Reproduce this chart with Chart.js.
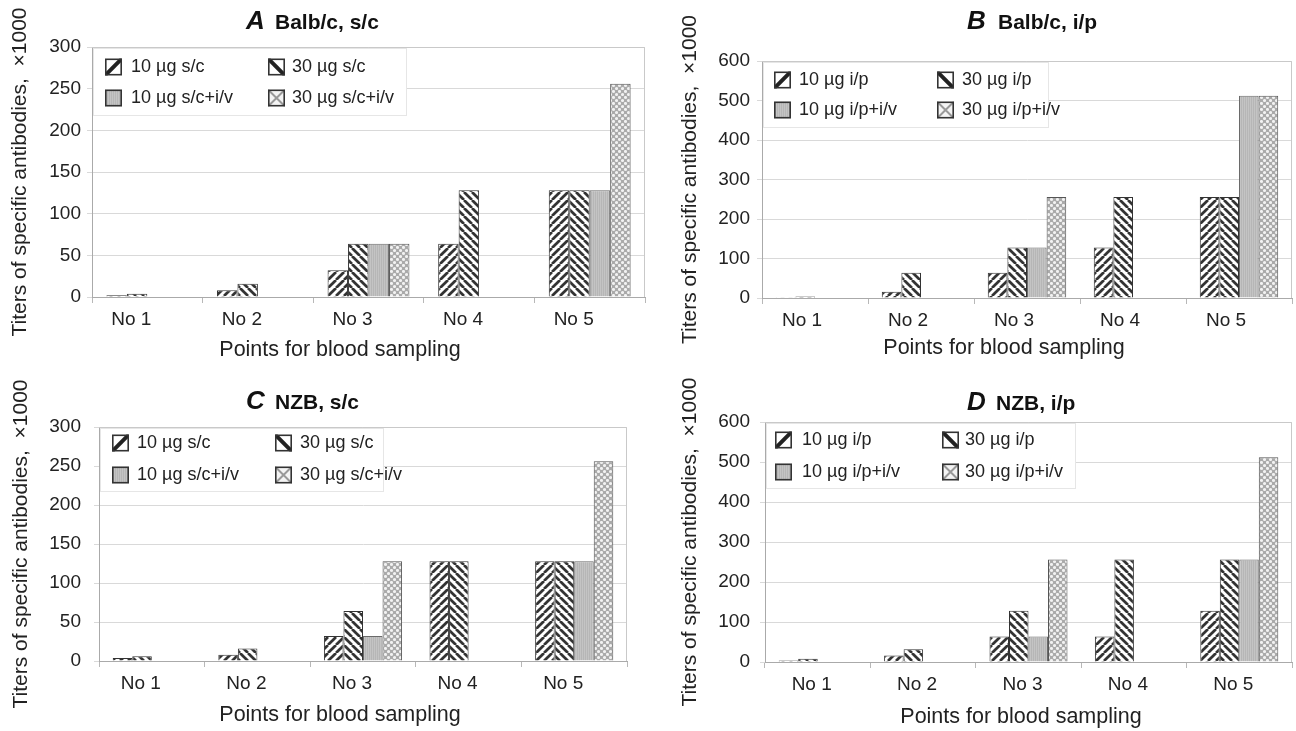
<!DOCTYPE html>
<html><head><meta charset="utf-8">
<script src="https://cdn.jsdelivr.net/npm/chart.js@4.4.1/dist/chart.umd.min.js"></script>
<style>
html,body{margin:0;padding:0;background:#fff;width:1296px;height:731px;overflow:hidden;}
.p{position:absolute;}
</style></head><body>
<div class="p" style="left:0;top:0;width:648px;height:365px"><canvas id="cA"></canvas></div>
<div class="p" style="left:648px;top:0;width:648px;height:365px"><canvas id="cB"></canvas></div>
<div class="p" style="left:0;top:365px;width:648px;height:366px"><canvas id="cC"></canvas></div>
<div class="p" style="left:648px;top:365px;width:648px;height:366px"><canvas id="cD"></canvas></div>
<script>
// ---------- data ----------
const categories = ['No 1', 'No 2', 'No 3', 'No 4', 'No 5'];
const seriesSC = ['10 µg s/c', '30 µg s/c', '10 µg s/c+i/v', '30 µg s/c+i/v'];
const seriesIP = ['10 µg i/p', '30 µg i/p', '10 µg i/p+i/v', '30 µg i/p+i/v'];
const xTitle = 'Points for blood sampling';
const yTitle = 'Titers of specific antibodies,  ×1000';

// A  Balb/c, s/c
const A_10 = [2, 8, 32, 64, 128];
const A_30 = [4, 16, 64, 128, 128];
const A_10iv = [null, null, 64, null, 128];
const A_30iv = [null, null, 64, null, 256];
// B  Balb/c, i/p
const B_10 = [2, 16, 64, 128, 256];
const B_30 = [4, 64, 128, 256, 256];
const B_10iv = [null, null, 128, null, 512];
const B_30iv = [null, null, 256, null, 512];
// C  NZB, s/c
const C_10 = [4, 8, 32, 128, 128];
const C_30 = [6, 16, 64, 128, 128];
const C_10iv = [null, null, 32, null, 128];
const C_30iv = [null, null, 128, null, 256];
// D  NZB, i/p
const D_10 = [4, 16, 64, 64, 128];
const D_30 = [8, 32, 128, 256, 256];
const D_10iv = [null, null, 64, null, 256];
const D_30iv = [null, null, 256, null, 512];

const yMaxSC = 300, yStepSC = 50;
const yMaxIP = 600, yStepIP = 100;

// ---------- patterns ----------
const FONT = "'Liberation Sans', Arial, sans-serif";
function tile(w, h, draw) {
  const c = document.createElement('canvas'); c.width = w; c.height = h;
  const g = c.getContext('2d'); draw(g, w, h); return c;
}
const pctx = document.createElement('canvas').getContext('2d');
function stripes(dir) {
  return tile(8, 8, (g, w, h) => {
    g.fillStyle = '#fff'; g.fillRect(0, 0, w, h);
    g.strokeStyle = '#333'; g.lineWidth = 2.7;
    for (let k = -1; k <= 1; k++) {
      g.beginPath();
      if (dir > 0) { g.moveTo(k * w, h); g.lineTo(k * w + w, 0); }
      else { g.moveTo(k * w, 0); g.lineTo(k * w + w, h); }
      g.stroke();
    }
  });
}
const tileFwd = stripes(1), tileBack = stripes(-1);
const tileGray = tile(4, 4, (g) => {
  g.fillStyle = '#b6b6b6'; g.fillRect(0, 0, 4, 4);
  g.fillStyle = '#c4c4c4'; g.fillRect(0, 0, 1, 4); g.fillRect(2, 0, 1, 4);
});
const tileDots = tile(6, 6, (g) => {
  g.fillStyle = '#aaaaaa'; g.fillRect(0, 0, 6, 6);
  g.fillStyle = '#f2f2f2';
  [[1.5, 1.5], [4.5, 4.5]].forEach(([x, y]) => { g.beginPath(); g.arc(x, y, 1.55, 0, Math.PI * 2); g.fill(); });
});
const fills = [tileFwd, tileBack, tileGray, tileDots].map(t => pctx.createPattern(t, 'repeat'));
const borders = ['#333', '#333', '#6a6a6a', '#555'];

// ---------- plugins ----------
const framePlugin = {
  id: 'frame',
  beforeDatasetsDraw(chart) {
    const { ctx, chartArea: a } = chart;
    ctx.save(); ctx.strokeStyle = '#c9c9c9'; ctx.lineWidth = 1;
    ctx.beginPath(); ctx.moveTo(a.left, a.top + 0.5); ctx.lineTo(a.right - 0.5, a.top + 0.5); ctx.lineTo(a.right - 0.5, a.bottom); ctx.stroke();
    ctx.restore();
  }
};
function drawSwatch(ctx, i, x, y, s) {
  ctx.save();
  ctx.beginPath(); ctx.rect(x, y, s, s); ctx.clip();
  if (i === 0 || i === 1) {
    ctx.fillStyle = '#fff'; ctx.fillRect(x, y, s, s);
    ctx.strokeStyle = '#222'; ctx.lineWidth = 4;
    ctx.beginPath();
    if (i === 0) { ctx.moveTo(x, y + s); ctx.lineTo(x + s, y); }
    else { ctx.moveTo(x, y); ctx.lineTo(x + s, y + s); }
    ctx.stroke();
  } else if (i === 2) {
    ctx.fillStyle = fills[2]; ctx.fillRect(x, y, s, s);
  } else {
    ctx.fillStyle = '#f4f4f4'; ctx.fillRect(x, y, s, s);
    ctx.strokeStyle = '#999'; ctx.lineWidth = 2;
    ctx.beginPath(); ctx.moveTo(x, y); ctx.lineTo(x + s, y + s); ctx.moveTo(x + s, y); ctx.lineTo(x, y + s); ctx.stroke();
  }
  ctx.restore();
  ctx.save(); ctx.strokeStyle = '#333'; ctx.lineWidth = 1.6;
  ctx.strokeRect(x + 0.8, y + 0.8, s - 1.6, s - 1.6); ctx.restore();
}
const legendPlugin = {
  id: 'boxLegend',
  afterDraw(chart, args, o) {
    const { ctx, chartArea: a } = chart;
    ctx.save();
    ctx.fillStyle = '#fff';
    ctx.fillRect(a.left + 1, a.top + 1, o.boxW, o.boxH);
    ctx.strokeStyle = '#e6e6e6'; ctx.lineWidth = 1;
    ctx.strokeRect(a.left + 1.5, a.top + 1.5, o.boxW - 1, o.boxH - 1);
    ctx.font = '18px ' + FONT; ctx.fillStyle = '#222'; ctx.textBaseline = 'middle'; ctx.textAlign = 'left';
    chart.data.datasets.forEach((ds, i) => {
      const col = i % 2, row = Math.floor(i / 2);
      const cy = a.top + o.rows[row];
      drawSwatch(ctx, i, a.left + o.sw[col], cy - 8.5, 17);
      ctx.fillText(ds.label, a.left + o.tx[col], cy);
    });
    ctx.restore();
  }
};
const titlePlugin = {
  id: 'panelTitle',
  afterDraw(chart, args, o) {
    const ctx = chart.ctx;
    ctx.save(); ctx.fillStyle = '#111'; ctx.textBaseline = 'middle'; ctx.textAlign = 'left';
    ctx.font = 'italic bold 26px ' + FONT; ctx.fillText(o.letter, o.lx, o.y);
    ctx.font = 'bold 21px ' + FONT; ctx.fillText(o.text, o.tx, o.y + 1);
    // x-axis title (placed as in the reference, left of the plot centre)
    ctx.fillStyle = '#222'; ctx.textAlign = 'center';
    ctx.font = '21.5px ' + FONT; ctx.fillText(xTitle, o.xtx, o.xty);
    ctx.restore();
  }
};

// ---------- chart builder ----------
function makeChart(id, cfg) {
  const datasets = cfg.series.map((d, i) => ({
    label: cfg.labels[i], data: d,
    backgroundColor: fills[i], borderColor: borders[i], borderWidth: 1,
    categoryPercentage: 0.74, barPercentage: 1.0
  }));
  return new Chart(document.getElementById(id), {
    type: 'bar',
    data: { labels: categories, datasets },
    options: {
      responsive: true, maintainAspectRatio: false, animation: false, devicePixelRatio: 1,
      layout: { padding: { left: 0, top: cfg.T, right: cfg.W - cfg.R, bottom: 0 } },
      plugins: {
        legend: { display: false }, tooltip: { enabled: false }, title: { display: false },
        boxLegend: cfg.legend, panelTitle: cfg.title
      },
      scales: {
        x: {
          grid: { drawOnChartArea: false, drawTicks: true, tickLength: 6, color: '#b8b8b8', offset: true },
          border: { color: '#aaaaaa' },
          ticks: { font: { family: FONT, size: 19 }, color: '#222', padding: 5, labelOffset: cfg.lo, maxRotation: 0, autoSkip: false },
          title: { display: false },
          afterFit: s => { s.height = cfg.H - cfg.B; }
        },
        y: {
          min: 0, max: cfg.max,
          ticks: { stepSize: cfg.step, font: { family: FONT, size: 19 }, color: '#222', padding: cfg.yp },
          grid: { color: '#d9d9d9', tickLength: 5, drawTicks: true },
          border: { color: '#aaaaaa' },
          title: { display: true, text: yTitle, font: { family: FONT, size: 21 }, color: '#222', padding: { top: cfg.ytp, bottom: 0 } },
          afterFit: s => { s.width = cfg.L; }
        }
      }
    },
    plugins: [framePlugin, legendPlugin, titlePlugin]
  });
}

makeChart('cA', {
  series: [A_10, A_30, A_10iv, A_30iv], labels: seriesSC, max: yMaxSC, step: yStepSC,
  W: 648, H: 365, L: 92, R: 645, T: 47, B: 297, lo: -16, ytp: 7.4, yp: 6,
  legend: { sw: [13, 176], tx: [39, 200], rows: [20, 51], boxW: 314, boxH: 68 },
  title: { letter: 'A', text: 'Balb/c, s/c', lx: 246, tx: 275, y: 22, xtx: 340, xty: 350 }
});
makeChart('cB', {
  series: [B_10, B_30, B_10iv, B_30iv], labels: seriesIP, max: yMaxIP, step: yStepIP,
  W: 648, H: 365, L: 114, R: 644, T: 61, B: 298, lo: -13, ytp: 29.4, yp: 7,
  legend: { sw: [12, 175], tx: [37, 200], rows: [19, 49], boxW: 286, boxH: 66 },
  title: { letter: 'B', text: 'Balb/c, i/p', lx: 319, tx: 350, y: 22, xtx: 356, xty: 348 }
});
makeChart('cC', {
  series: [C_10, C_30, C_10iv, C_30iv], labels: seriesSC, max: yMaxSC, step: yStepSC,
  W: 648, H: 366, L: 99, R: 627, T: 62, B: 296, lo: -11, ytp: 8.4, yp: 13,
  legend: { sw: [13, 176], tx: [38, 201], rows: [16, 48], boxW: 284, boxH: 64 },
  title: { letter: 'C', text: 'NZB, s/c', lx: 246, tx: 275, y: 37, xtx: 340, xty: 350 }
});
makeChart('cD', {
  series: [D_10, D_30, D_10iv, D_30iv], labels: seriesIP, max: yMaxIP, step: yStepIP,
  W: 648, H: 366, L: 117, R: 644, T: 57, B: 297, lo: -6, ytp: 29.4, yp: 10,
  legend: { sw: [10, 177], tx: [37, 200], rows: [18, 50], boxW: 310, boxH: 66 },
  title: { letter: 'D', text: 'NZB, i/p', lx: 319, tx: 348, y: 38, xtx: 373, xty: 352 }
});
</script>
</body></html>
